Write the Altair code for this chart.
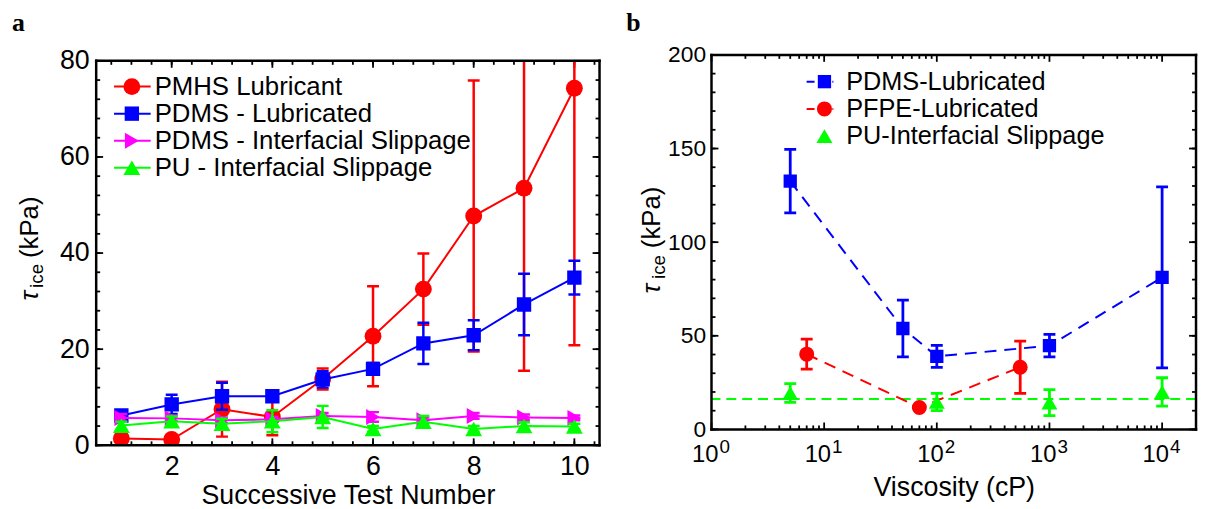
import altair as alt
import pandas as pd

FONT = "Liberation Sans"

# ---------------- Panel a data ----------------
test_num = [1, 2, 3, 4, 5, 6, 7, 8, 9, 10]
pmhs_tau = [1.4, 1.2, 7.5, 5.9, 13.8, 22.7, 32.5, 47.7, 53.5, 74.3]
pmhs_err = [0.0, 0.0, 5.7, 3.8, 2.2, 10.4, 7.4, 28.2, 38.0, 53.5]
pdms_lub_tau = [6.2, 8.5, 10.2, 10.2, 13.7, 15.9, 21.2, 22.9, 29.3, 34.9]
pdms_lub_err = [0.6, 2.0, 2.8, 0.6, 1.7, 1.2, 4.3, 3.1, 6.4, 3.5]
pdms_slip_tau = [5.7, 5.6, 5.2, 5.4, 6.1, 5.9, 5.2, 6.1, 5.8, 5.7]
pdms_slip_err = [0.8, 0.6, 0.6, 0.5, 0.6, 1.0, 0.6, 0.6, 0.6, 0.5]
pu_slip_tau = [4.1, 5.0, 4.5, 5.0, 5.9, 3.4, 4.9, 3.4, 4.0, 3.9]
pu_slip_err = [0.8, 1.0, 1.0, 2.3, 2.3, 0.6, 1.2, 0.6, 0.8, 0.6]

a_x_major = [2, 4, 6, 8, 10]
a_x_minor = [round(0.8 + 0.4 * i, 1) for i in range(25)]
a_y_major = [0, 20, 40, 60, 80]
a_y_minor = list(range(0, 81, 4))

# ---------------- Panel b data ----------------
pdms_visc = [5, 50, 100, 1000, 10000]
pdms_tau = [132.6, 53.9, 39.0, 44.7, 81.2]
pdms_err = [17.0, 15.2, 5.9, 6.0, 48.3]
pfpe_visc = [7, 70, 550]
pfpe_tau = [40.2, 11.7, 33.2]
pfpe_err = [8.0, 0.0, 14.0]
pu_visc = [5, 100, 1000, 10000]
pu_tau = [19.4, 14.7, 14.3, 20.0]
pu_err = [5.0, 4.6, 6.9, 7.6]
pu_mean = [16.2]

b_x_major = [1, 10, 100, 1000, 10000]
b_x_exp = ["0", "1", "2", "3", "4"]
b_x_minor = [m * 10 ** k for k in range(0, 5) for m in range(2, 10) if m * 10 ** k < 20000]
b_y_major = [0, 50, 100, 150, 200]
b_y_minor = list(range(0, 201, 10))

# panel a: group taller than its frame (frame starts 6px below group top)
W_A, H_A, TOP_A = 508, 394, 6
W_B, H_B, TOP_B = 489, 378, 0

RED, BLUE, MAG, GREEN = "#ff0000", "#0000ff", "#ff00ff", "#00ff00"

xs_a = alt.Scale(domain=[0.5, 10.5], nice=False, zero=False)
ys_a = alt.Scale(domain=[0, 80], nice=False, zero=False, range=[H_A, TOP_A], clamp=True)
xs_b = alt.Scale(type="log", domain=[1, 20000], nice=False)
ys_b = alt.Scale(domain=[0, 200], nice=False, zero=False)

ax_xa = alt.Axis(values=a_x_major, ticks=False, domain=False, grid=False, labelFont=FONT,
                 labelFontSize=27, labelColor="black", labelPadding=8, labelFlush=False,
                 title="Successive Test Number", titleFont=FONT, titleFontSize=27,
                 titleFontWeight="normal", titleColor="black", titlePadding=4)
ax_ya = alt.Axis(values=a_y_major, ticks=False, domain=False, grid=False, labelFont=FONT,
                 labelFontSize=27, labelColor="black", labelPadding=7, title=None)
ax_xb = alt.Axis(values=b_x_major, ticks=False, domain=False, grid=False, labels=False,
                 title="Viscosity (cP)", titleFont=FONT, titleFontSize=27,
                 titleFontWeight="normal", titleColor="black", titlePadding=46)
ax_yb = alt.Axis(values=b_y_major, ticks=False, domain=False, grid=False, labelFont=FONT,
                 labelFontSize=23, labelColor="black", labelPadding=6, title=None)


def one():
    return alt.Data(values=[{"k": 0}])


def series(xv, vals, errs, xscale, xaxis, yscale, yaxis, ymax, color, shape, size,
           line=True, dash=None, lw=2, ew=2.5):
    df = pd.DataFrame({"x": xv, "v": vals,
                       "lo": [v - e for v, e in zip(vals, errs)],
                       "hi": [v + e for v, e in zip(vals, errs)]})
    X = alt.X("x:Q", scale=xscale, axis=xaxis)
    base = alt.Chart(df)
    layers = []
    if line:
        kw = dict(color=color, strokeWidth=lw, clip=True)
        if dash:
            kw["strokeDash"] = dash
        layers.append(base.mark_line(**kw).encode(x=X, y=alt.Y("v:Q", scale=yscale, axis=yaxis)))
    layers.append(base.mark_rule(color=color, strokeWidth=ew, clip=True).encode(
        x=X, y=alt.Y("lo:Q", scale=yscale, axis=yaxis), y2="hi:Q"))
    for f in ["lo", "hi"]:
        layers.append(base.mark_tick(orient="horizontal", color=color, thickness=ew, size=12,
                                     clip=True, opacity=1).encode(
            x=X, y=alt.Y(f + ":Q", scale=yscale, axis=yaxis)
        ).transform_filter(f"datum.{f} <= {ymax}"))
    layers.append(base.mark_point(shape=shape, filled=True, size=size, color=color,
                                  opacity=1, clip=True).encode(
        x=X, y=alt.Y("v:Q", scale=yscale, axis=yaxis)))
    return layers


def frame(W, top, bottom, sw=2.5):
    r = dict(color="black", strokeWidth=sw, strokeCap="square")
    return [
        alt.Chart(one()).mark_rule(**r).encode(x=alt.value(0), x2=alt.value(W), y=alt.value(top)),
        alt.Chart(one()).mark_rule(**r).encode(x=alt.value(0), x2=alt.value(W), y=alt.value(bottom)),
        alt.Chart(one()).mark_rule(**r).encode(x=alt.value(0), y=alt.value(top), y2=alt.value(bottom)),
        alt.Chart(one()).mark_rule(**r).encode(x=alt.value(W), y=alt.value(top), y2=alt.value(bottom)),
    ]


def frame_ticks(vals, scale, axis, orient, W, top, bottom, length, sw=1.8):
    df = pd.DataFrame({"t": vals})
    base = alt.Chart(df).mark_rule(color="black", strokeWidth=sw)
    if orient == "x":
        X = alt.X("t:Q", scale=scale, axis=axis)
        return [base.encode(x=X, y=alt.value(bottom), y2=alt.value(bottom - length)),
                base.encode(x=X, y=alt.value(top), y2=alt.value(top + length))]
    Y = alt.Y("t:Q", scale=scale, axis=axis)
    return [base.encode(y=Y, x=alt.value(0), x2=alt.value(length)),
            base.encode(y=Y, x=alt.value(W), x2=alt.value(W - length))]


def legend_entry(x0, x1, xm, xt, y, color, shape, size, text, fs, dash=None, line=True):
    layers = []
    if line:
        kw = dict(color=color, strokeWidth=2)
        if dash:
            kw["strokeDash"] = dash
        layers.append(alt.Chart(one()).mark_rule(**kw).encode(
            x=alt.value(x0), x2=alt.value(x1), y=alt.value(y)))
    layers.append(alt.Chart(one()).mark_point(shape=shape, filled=True, size=size, color=color,
                                              opacity=1).encode(x=alt.value(xm), y=alt.value(y)))
    layers.append(alt.Chart(one()).mark_text(text=text, align="left", baseline="middle",
                                             font=FONT, fontSize=fs, color="black").encode(
        x=alt.value(xt), y=alt.value(y)))
    return layers


def ytitle(xc, y_tau, y_ice, y_kpa, dx_sub):
    t1 = alt.Chart(one()).mark_text(text="τ", angle=270, align="center", baseline="middle",
                                    font=FONT, fontSize=26, fontStyle="italic",
                                    color="black").encode(x=alt.value(xc), y=alt.value(y_tau))
    t2 = alt.Chart(one()).mark_text(text="ice", angle=270, align="center", baseline="middle",
                                    font=FONT, fontSize=19, color="black").encode(
        x=alt.value(xc + dx_sub), y=alt.value(y_ice))
    t3 = alt.Chart(one()).mark_text(text="(kPa)", angle=270, align="center", baseline="middle",
                                    font=FONT, fontSize=26, color="black").encode(
        x=alt.value(xc), y=alt.value(y_kpa))
    return [t1, t2, t3]


def letter(ch, x, y):
    return alt.Chart(one()).mark_text(text=ch, align="left", baseline="alphabetic",
                                      font="Liberation Serif", fontWeight="bold", fontSize=26,
                                      color="black").encode(x=alt.value(x), y=alt.value(y))


# ---------------- Panel a ----------------
la = []
la += frame_ticks(a_x_minor, xs_a, ax_xa, "x", W_A, TOP_A, H_A, 4)
la += frame_ticks(a_x_major, xs_a, ax_xa, "x", W_A, TOP_A, H_A, 7)
la += frame_ticks(a_y_minor, ys_a, ax_ya, "y", W_A, TOP_A, H_A, 4)
la += frame_ticks(a_y_major, ys_a, ax_ya, "y", W_A, TOP_A, H_A, 7)
la += series(test_num, pmhs_tau, pmhs_err, xs_a, ax_xa, ys_a, ax_ya, 80, RED, "circle", 290)
la += series(test_num, pdms_lub_tau, pdms_lub_err, xs_a, ax_xa, ys_a, ax_ya, 80, BLUE, "square", 210)
la += series(test_num, pdms_slip_tau, pdms_slip_err, xs_a, ax_xa, ys_a, ax_ya, 80, MAG, "triangle-right", 260)
la += series(test_num, pu_slip_tau, pu_slip_err, xs_a, ax_xa, ys_a, ax_ya, 80, GREEN, "triangle-up", 290)
la += frame(W_A, TOP_A, H_A)
leg_a = [("PMHS Lubricant", RED, "circle", 290),
         ("PDMS - Lubricated", BLUE, "square", 210),
         ("PDMS - Interfacial Slippage", MAG, "triangle-right", 260),
         ("PU - Interfacial Slippage", GREEN, "triangle-up", 290)]
for i, (t, c, s, sz) in enumerate(leg_a):
    la += legend_entry(18, 55, 36, 59, 32 + 27.3 * i, c, s, sz, t, 26)
la += ytitle(-67, 243, 223, 174, 7)
la.append(letter("a", -85, -24))
panel_a = alt.layer(*la).properties(width=W_A, height=H_A)

# ---------------- Panel b ----------------
lb = []
lb += frame_ticks(b_x_minor, xs_b, ax_xb, "x", W_B, TOP_B, H_B, 4)
lb += frame_ticks(b_x_major, xs_b, ax_xb, "x", W_B, TOP_B, H_B, 7)
lb += frame_ticks(b_y_minor, ys_b, ax_yb, "y", W_B, TOP_B, H_B, 4)
lb += frame_ticks(b_y_major, ys_b, ax_yb, "y", W_B, TOP_B, H_B, 7)
lb.append(alt.Chart(pd.DataFrame({"m": pu_mean})).mark_rule(
    color=GREEN, strokeWidth=2, strokeDash=[10, 6]).encode(
    y=alt.Y("m:Q", scale=ys_b, axis=ax_yb)))
lb += series(pdms_visc, pdms_tau, pdms_err, xs_b, ax_xb, ys_b, ax_yb, 200, BLUE, "square", 180,
             dash=[12, 8], ew=2.8)
lb += series(pfpe_visc, pfpe_tau, pfpe_err, xs_b, ax_xb, ys_b, ax_yb, 200, RED, "circle", 230,
             dash=[12, 8], ew=2.8)
lb += series(pu_visc, pu_tau, pu_err, xs_b, ax_xb, ys_b, ax_yb, 200, GREEN, "triangle-up", 260,
             line=False, ew=2.8)
lb += frame(W_B, TOP_B, H_B)
# decade labels 10^k
dlab = pd.DataFrame({"x": b_x_major, "e": b_x_exp})
lb.append(alt.Chart(dlab).mark_text(text="10", align="right", baseline="alphabetic", dx=7,
                                    font=FONT, fontSize=24, color="black").encode(
    x=alt.X("x:Q", scale=xs_b, axis=ax_xb), y=alt.value(H_B + 33)))
lb.append(alt.Chart(dlab).mark_text(align="left", baseline="alphabetic", dx=8,
                                    font=FONT, fontSize=19, color="black").encode(
    x=alt.X("x:Q", scale=xs_b, axis=ax_xb), y=alt.value(H_B + 24), text="e:N"))
leg_b = [("PDMS-Lubricated", BLUE, "square", 180, True),
         ("PFPE-Lubricated", RED, "circle", 230, True),
         ("PU-Interfacial Slippage", GREEN, "triangle-up", 260, False)]
for i, (t, c, s, sz, ln) in enumerate(leg_b):
    lb += legend_entry(96, 123, 114, 136, 27 + 27.5 * i, c, s, sz, t, 25.5, dash=[8, 5], line=ln)
lb += ytitle(-60, 236, 214, 164, 7)
lb.append(letter("b", -86, -24))
panel_b = alt.layer(*lb).properties(width=W_B, height=H_B)

chart = alt.hconcat(panel_a, panel_b, spacing=25).properties(
    padding={"left": 4, "top": 0, "right": 0, "bottom": 0}
).configure_view(stroke=None)

chart.save("out.html", embed_options={"renderer": "svg", "actions": False})
